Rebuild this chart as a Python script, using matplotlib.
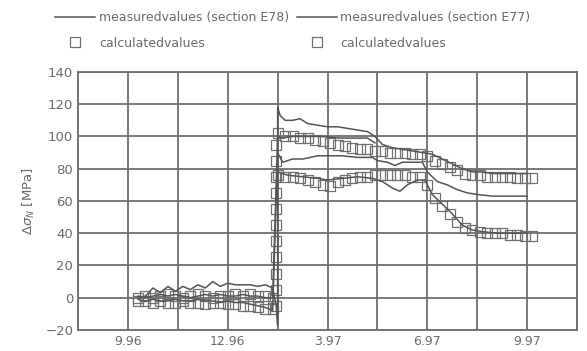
"""Measured vs calculated stress change, sections E78 / E77."""
import matplotlib
matplotlib.use("Agg")
import matplotlib.pyplot as plt
from matplotlib.lines import Line2D

# x in grid units (one grid step = 1.5 months)
tick_pos = [1, 3, 5, 7, 9]
tick_labels = ["9.96", "12.96", "3.97", "6.97", "9.97"]

pre_x = [1.2, 1.35, 1.5, 1.65, 1.8, 1.95, 2.1, 2.25, 2.4, 2.55, 2.7, 2.85,
         3.0, 3.15, 3.3, 3.45, 3.6, 3.75, 3.9]

# measured, section E78 (upper line)
e78a_x = pre_x + [3.97, 4.0, 4.0, 4.05, 4.15, 4.3, 4.45, 4.6, 4.8, 5.0, 5.2, 5.4, 5.6,
                  5.8, 5.95, 6.1, 6.3, 6.5, 6.7, 6.9, 7.1, 7.3, 7.5, 7.7, 7.9,
                  8.1, 8.3, 8.5, 8.7, 8.9, 9.0]
e78a_y = [0, 1, 6, 3, 7, 4, 7, 5, 8, 6, 10, 7, 9, 8, 8, 8, 7, 8, 6,
          -5, -17, 118, 113, 110, 110, 111, 108, 107, 106, 106, 105, 104,
          103, 100, 95, 93, 92, 91, 90, 89, 86, 83, 80, 78, 78, 77, 77, 77, 77, 77]

# measured, section E78 (second gauge)
e78b_x = pre_x + [4.0, 4.1, 4.3, 4.6, 4.9, 5.2, 5.5, 5.8, 5.95]
e78b_y = [1, 0, 1, 2, 1, 2, 1, 0, 1, 2, 1, 2, 1, 1, 2, 1, 1, 0, 0,
          100, 99, 100, 100, 100, 99, 99, 99, 96]

# measured, section E77
e77a_x = pre_x + [4.0, 4.1, 4.3, 4.5, 4.8, 5.0, 5.3, 5.6, 5.9, 6.0, 6.2, 6.35,
                  6.5, 6.7, 6.9, 7.0, 7.2, 7.4, 7.6, 7.8, 8.0, 8.3, 8.6, 9.0]
e77a_y = [-1, -2, -1, -2, -2, -1, -2, -2, -1, -2, -2, -3, -2, -3, -3, -4, -5, -6, -8,
          90, 84, 86, 86, 88, 88, 88, 87, 87, 85, 84, 82, 84, 84, 84, 78, 72, 70,
          67, 65, 64, 63, 63, 63]

e77b_x = [4.0, 4.2, 4.5, 4.8, 5.0, 5.3, 5.6, 5.9, 6.1, 6.3, 6.45, 6.6, 6.8,
          6.95, 7.1, 7.3, 7.5, 7.7, 7.9, 8.1, 8.4, 8.7, 9.0]
e77b_y = [78, 76, 75, 74, 73, 74, 75, 74, 72, 68, 66, 70, 73, 73, 64, 58, 52,
          45, 42, 41, 40, 40, 40]

# calculated values
calc_x = [4.0, 4.15, 4.3, 4.45, 4.6, 4.75, 4.9, 5.05, 5.2, 5.35, 5.5, 5.65,
          5.8, 5.95, 6.1, 6.25, 6.4, 6.55, 6.7, 6.85, 7.0, 7.15, 7.3, 7.45,
          7.6, 7.75, 7.9, 8.05, 8.2, 8.35, 8.5, 8.65, 8.8, 8.95, 9.1]
calc1_y = [102, 100, 100, 99, 99, 98, 97, 96, 95, 94, 93, 92, 92, 91, 91, 90,
           90, 90, 89, 89, 88, 85, 83, 81, 79, 77, 76, 76, 75, 75, 75, 75, 74, 74, 74]
calc2_y = [76, 75, 75, 74, 73, 72, 70, 69, 72, 73, 74, 75, 75, 76, 76, 76, 76,
           76, 75, 75, 70, 62, 57, 52, 47, 43, 42, 41, 40, 40, 40, 39, 39, 38, 38]
calc1_pre = [0, 1, 0, 1, 2, 1, 0, 1, 2, 1, 0, 1, 1, 2, 1, 2, 1, 1, 0]
calc2_pre = [-2, -2, -3, -2, -3, -3, -2, -3, -3, -4, -3, -3, -4, -4, -5, -5, -6, -7, -7]
jump_x = [3.97] * 11
jump_y = [-5, 5, 15, 25, 35, 45, 55, 65, 75, 85, 95]

grey = "#555555"
txt = "#6a6a6a"

fig = plt.figure(figsize=(5.87, 3.51), dpi=100)
ax = fig.add_axes([0.133, 0.06, 0.85, 0.735])

lw = 1.1
for xs, ys in [(e78a_x, e78a_y), (e78b_x, e78b_y), (e77a_x, e77a_y), (e77b_x, e77b_y)]:
    ax.plot(xs, ys, color=grey, lw=lw, zorder=3)

sq = dict(ls="none", marker="s", ms=6.5, mfc="none", mec="#707070", mew=0.9, zorder=2)
ax.plot(pre_x + jump_x + calc_x, calc1_pre + jump_y + calc1_y, **sq)
ax.plot(pre_x + calc_x, calc2_pre + calc2_y, **sq)

ax.set_xlim(0, 10)
ax.set_ylim(-20, 140)
ax.set_yticks(range(-20, 141, 20))
ax.set_xticks(tick_pos)
ax.set_xticklabels(tick_labels)
ax.set_xticks(range(0, 11), minor=True)
ax.grid(True, which="both", color="#6e6e6e", lw=1.3)
ax.tick_params(which="both", length=0, colors=txt, labelsize=9.5)
ax.tick_params(axis="x", pad=4, labelsize=9)
for s in ax.spines.values():
    s.set_color("#6e6e6e")
    s.set_linewidth(1.3)
ax.set_ylabel(r"$\Delta\sigma_N$ [MPa]", color=txt, fontsize=9.5, labelpad=6)

handles = [
    Line2D([], [], color=grey, lw=lw),
    Line2D([], [], **sq),
    Line2D([], [], color=grey, lw=lw),
    Line2D([], [], **sq),
]
labels = ["measuredvalues (section E78)", "calculatedvalues",
          "measuredvalues (section E77)", "calculatedvalues"]
leg = fig.legend(handles, labels, loc="upper left", bbox_to_anchor=(0.075, 1.0),
                 ncol=2, frameon=False, fontsize=9, handlelength=3.2,
                 labelspacing=1.0, columnspacing=0.6, handletextpad=0.3)
for t in leg.get_texts():
    t.set_color(txt)

fig.savefig("out.png", dpi=100)
